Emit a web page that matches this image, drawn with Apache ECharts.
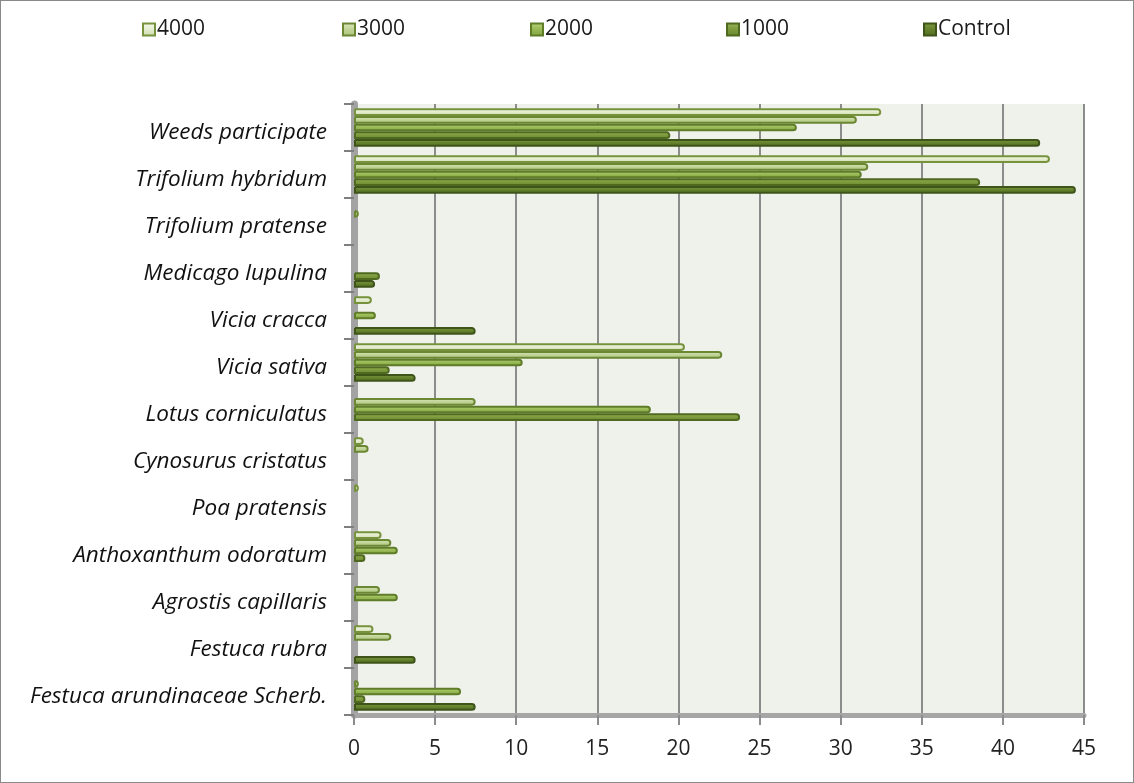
<!DOCTYPE html>
<html>
<head>
<meta charset="utf-8">
<script src="https://cdn.jsdelivr.net/npm/echarts@6/dist/echarts.min.js"></script>
<style>
  html, body { margin: 0; padding: 0; background: #ffffff; }
  #chart { width: 1134px; height: 783px; box-sizing: border-box; border: 1px solid #8a8a8a; }
</style>
</head>
<body>
<div id="chart"></div>
<script>
// Species, listed from the bottom of the axis to the top
const species = [
  'Festuca arundinaceae Scherb.',
  'Festuca rubra',
  'Agrostis capillaris',
  'Anthoxanthum odoratum',
  'Poa pratensis',
  'Cynosurus cristatus',
  'Lotus corniculatus',
  'Vicia sativa',
  'Vicia cracca',
  'Medicago lupulina',
  'Trifolium pratense',
  'Trifolium hybridum',
  'Weeds participate'
];

// Share per treatment, same order as species
const v4000    = [0,   1.2, 0,   1.7, 0.3, 0.6, 0,    20.4, 1.1,  0,   0,   42.9, 32.5];
const v3000    = [0.3, 2.3, 1.6, 2.3, 0,   0.9, 7.5,  22.7, 0,    0,   0.3, 31.7, 31.0];
const v2000    = [6.6, 0,   2.7, 2.7, 0,   0,   18.3, 10.4, 1.35, 0,   0,   31.3, 27.3];
const v1000    = [0.7, 0,   0,   0.7, 0,   0,   23.8, 2.2,  0,    1.6, 0,   38.6, 19.5];
const vControl = [7.5, 3.8, 0,   0,   0,   0,   0,    3.8,  7.5,  1.3, 0,   44.5, 42.3];

const seriesNames = ['4000', '3000', '2000', '1000', 'Control'];
const xTicks = [0, 5, 10, 15, 20, 25, 30, 35, 40, 45];

const palette = [
  { top: '#f7faef', mid: '#e6eed3', bot: '#cddcaa', edge: '#76923c' },
  { top: '#dde9c0', mid: '#c3d69b', bot: '#a9c274', edge: '#6b8733' },
  { top: '#bcd67e', mid: '#9bbb59', bot: '#80a240', edge: '#5f7c29' },
  { top: '#9bb85a', mid: '#7f9d3f', bot: '#67852c', edge: '#4f6921' },
  { top: '#7e9c42', mid: '#66842e', bot: '#526d22', edge: '#3e5419' }
];
const legendLeft = [141, 341, 529, 725, 922];

const values = [v4000, v3000, v2000, v1000, vControl];

function barStyle(p) {
  return {
    color: new echarts.graphic.LinearGradient(0, 0, 0, 1, [
      { offset: 0, color: p.top },
      { offset: 0.45, color: p.mid },
      { offset: 1, color: p.bot }
    ]),
    borderColor: p.edge,
    borderWidth: 2,
    borderRadius: [0, 3, 3, 0]
  };
}

const series = seriesNames.map((name, i) => ({
  name: name,
  type: 'bar',
  barGap: '0%',
  barCategoryGap: '18%',
  // empty cells are left undrawn
  data: values[i].map(v => (v === 0 ? '-' : v)),
  itemStyle: barStyle(palette[i]),
  emphasis: { disabled: true }
}));

const legends = seriesNames.map((name, i) => ({
  data: [name],
  left: legendLeft[i],
  top: 18,
  padding: 0,
  itemWidth: 12,
  itemHeight: 12,
  icon: 'rect',
  selectedMode: false,
  textStyle: { fontFamily: 'Open Sans', fontSize: 21, color: '#1a1a1a', padding: [0, 0, 0, -3] }
}));

const chart = echarts.init(document.getElementById('chart'), null, { renderer: 'canvas' });
chart.setOption({
  animation: false,
  backgroundColor: '#ffffff',
  legend: legends,
  grid: {
    left: 353,
    top: 103,
    width: 730,
    height: 611,
    show: true,
    backgroundColor: '#eff2ea',
    borderWidth: 0
  },
  xAxis: {
    type: 'value',
    min: xTicks[0],
    max: xTicks[xTicks.length - 1],
    interval: 5,
    axisLine: { show: true, onZero: false, lineStyle: { color: '#a6a6a6', width: 5 } },
    axisTick: { show: true, length: 10, lineStyle: { color: '#8c8c8c', width: 2 } },
    axisLabel: { fontFamily: 'Open Sans', fontSize: 21, color: '#222222', margin: 24 },
    splitLine: { show: true, lineStyle: { color: '#8c8c8c', width: 2 } }
  },
  yAxis: {
    type: 'category',
    data: species,
    axisLine: { show: true, lineStyle: { color: '#a3a3a3', width: 7 } },
    axisTick: { show: true, length: 10, lineStyle: { color: '#7f7f7f', width: 2 } },
    axisLabel: {
      margin: 27,
      formatter: '{s|{value}}',
      rich: {
        s: {
          fontFamily: 'Open Sans',
          fontStyle: 'italic',
          fontSize: 22.5,
          color: '#111111',
          padding: [10, 0, 0, 0]
        }
      }
    },
    splitLine: { show: false }
  },
  series: series
});
</script>
</body>
</html>
